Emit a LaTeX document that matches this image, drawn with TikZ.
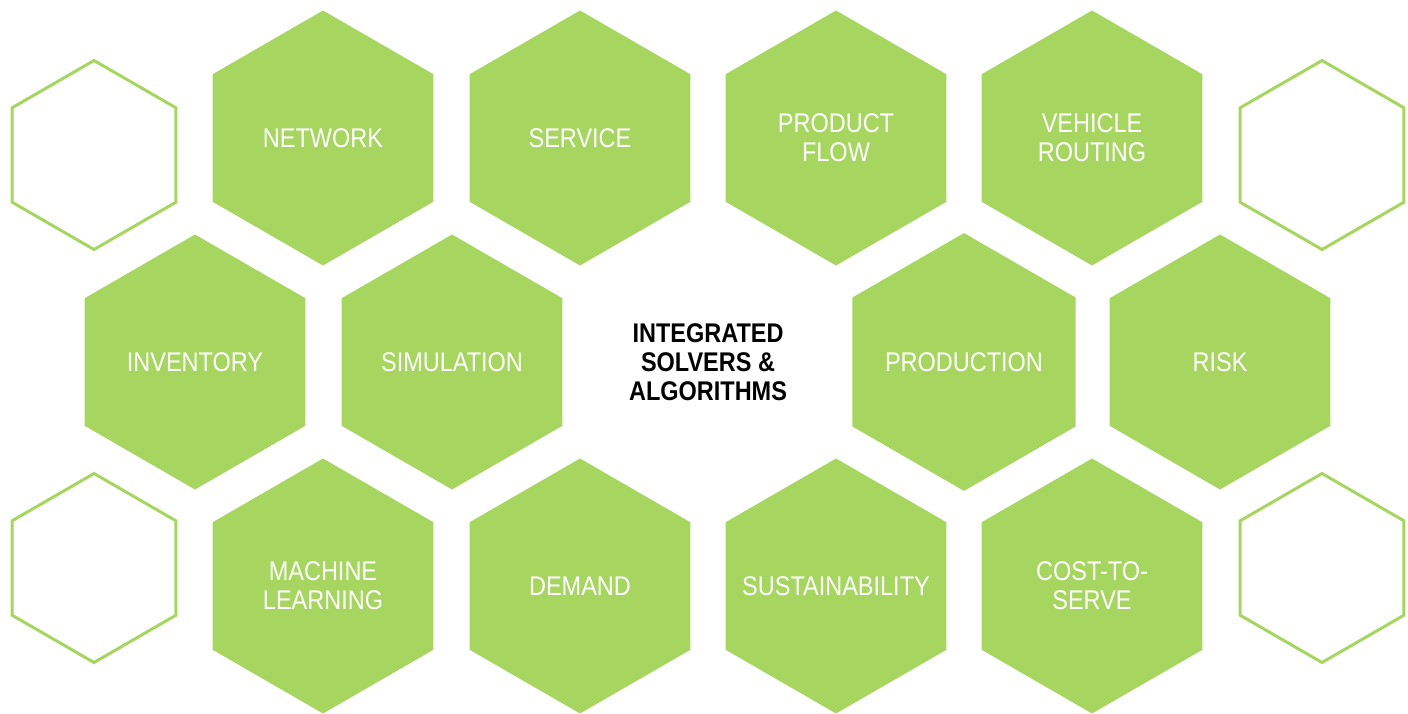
\documentclass[tikz,border=0pt]{standalone}
\usepackage{fontspec}
\usetikzlibrary{shapes.geometric}
\setmainfont[FakeStretch=0.87]{Liberation Sans}
\definecolor{hexgreen}{HTML}{A6D660}

\tikzset{
    hexfill/.style={regular polygon, regular polygon sides=6, shape border rotate=30,
        minimum size=255pt, inner sep=0pt, outer sep=0pt, fill=hexgreen,
        text=white, align=center, font=\fontsize{27}{29}\selectfont},
    hexline/.style={regular polygon, regular polygon sides=6, shape border rotate=30,
        minimum size=189pt, inner sep=0pt, outer sep=0pt, draw=hexgreen, line width=3pt},
    hubtext/.style={align=center, text=black, font=\fontsize{27}{29}\selectfont\bfseries}
}

\begin{document}
\begin{tikzpicture}[x=1pt,y=-1pt]
    \useasboundingbox (0,0) rectangle (1408,713);
    % empty outline hexagons at the sides
    \foreach \x/\y/\n in {94/155/otl,1322/155/otr,94/568/obl,1322/568/obr}
        \node[hexline] (\n) at (\x,\y) {};
    % top row
    \node[hexfill] (network) at (323,138) {NETWORK};
    \node[hexfill] (service) at (580,138) {SERVICE};
    \node[hexfill] (flow) at (836,138) {PRODUCT\\FLOW};
    \node[hexfill] (routing) at (1092,138) {VEHICLE\\ROUTING};
    % middle row
    \node[hexfill] (inventory) at (195,362) {INVENTORY};
    \node[hexfill] (simulation) at (452,362) {SIMULATION};
    \node[hubtext] (hub) at (708,362) {INTEGRATED\\SOLVERS \&\\ALGORITHMS};
    \node[hexfill] (production) at (964,362) {PRODUCTION};
    \node[hexfill] (risk) at (1220,362) {RISK};
    % bottom row
    \node[hexfill] (learning) at (323,586) {MACHINE\\LEARNING};
    \node[hexfill] (demand) at (580,586) {DEMAND};
    \node[hexfill] (sustain) at (836,586) {\makebox[0pt]{SUSTAINABILITY}};
    \node[hexfill] (serve) at (1092,586) {COST-TO-\\SERVE};
\end{tikzpicture}
\end{document}
